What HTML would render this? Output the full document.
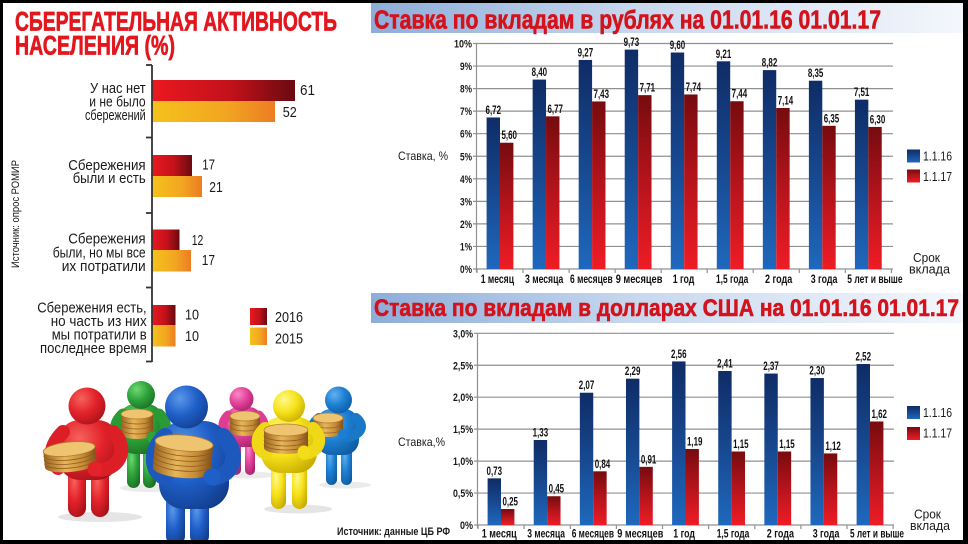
<!DOCTYPE html>
<html>
<head>
<meta charset="utf-8">
<style>
html,body{margin:0;padding:0;background:#000;}
svg{display:block;}
text{font-family:"Liberation Sans","Noto Sans CJK SC",sans-serif;}
</style>
</head>
<body>
<svg width="968" height="544" viewBox="0 0 968 544" xmlns="http://www.w3.org/2000/svg">
<defs>
  <linearGradient id="banner" x1="0" y1="0" x2="1" y2="0">
    <stop offset="0" stop-color="#8dadd9"/>
    <stop offset="0.45" stop-color="#c8d8ee"/>
    <stop offset="1" stop-color="#f4f7fc"/>
  </linearGradient>
  <linearGradient id="bb" x1="0" y1="0" x2="0" y2="1">
    <stop offset="0" stop-color="#0f2c66"/>
    <stop offset="0.5" stop-color="#17488f"/>
    <stop offset="1" stop-color="#1f68bd"/>
  </linearGradient>
  <linearGradient id="rb" x1="0" y1="0" x2="0" y2="1">
    <stop offset="0" stop-color="#760b0e"/>
    <stop offset="0.5" stop-color="#b5141c"/>
    <stop offset="1" stop-color="#ee1c25"/>
  </linearGradient>
  <linearGradient id="lr" x1="0" y1="0" x2="1" y2="0">
    <stop offset="0" stop-color="#ea1820"/>
    <stop offset="0.55" stop-color="#c3111a"/>
    <stop offset="1" stop-color="#6a0a10"/>
  </linearGradient>
  <linearGradient id="lo" x1="0" y1="0" x2="1" y2="0">
    <stop offset="0" stop-color="#f5c21b"/>
    <stop offset="0.6" stop-color="#f2a521"/>
    <stop offset="1" stop-color="#ec7d22"/>
  </linearGradient>
  <linearGradient id="gold" x1="0" y1="0" x2="1" y2="0">
    <stop offset="0" stop-color="#9a6320"/>
    <stop offset="0.4" stop-color="#e8b65a"/>
    <stop offset="0.75" stop-color="#c48a35"/>
    <stop offset="1" stop-color="#84501a"/>
  </linearGradient>
  <radialGradient id="cRed" cx="0.35" cy="0.3" r="0.8">
    <stop offset="0" stop-color="#f6625c"/><stop offset="0.5" stop-color="#e3222a"/><stop offset="1" stop-color="#a5121a"/>
  </radialGradient>
  <radialGradient id="cGreen" cx="0.35" cy="0.3" r="0.8">
    <stop offset="0" stop-color="#6fd873"/><stop offset="0.5" stop-color="#2ea33a"/><stop offset="1" stop-color="#1a6c24"/>
  </radialGradient>
  <radialGradient id="cBlue" cx="0.35" cy="0.3" r="0.8">
    <stop offset="0" stop-color="#5a98ea"/><stop offset="0.5" stop-color="#1f5fc8"/><stop offset="1" stop-color="#123d8c"/>
  </radialGradient>
  <radialGradient id="cPink" cx="0.35" cy="0.3" r="0.8">
    <stop offset="0" stop-color="#f98ac6"/><stop offset="0.5" stop-color="#e4419a"/><stop offset="1" stop-color="#a5226a"/>
  </radialGradient>
  <radialGradient id="cYellow" cx="0.35" cy="0.3" r="0.8">
    <stop offset="0" stop-color="#fff98a"/><stop offset="0.5" stop-color="#f6e21a"/><stop offset="1" stop-color="#c6aa00"/>
  </radialGradient>
  <radialGradient id="cBlue2" cx="0.35" cy="0.3" r="0.8">
    <stop offset="0" stop-color="#62b0f0"/><stop offset="0.5" stop-color="#1c7fd3"/><stop offset="1" stop-color="#0f5a9e"/>
  </radialGradient>
</defs>

<!-- frame -->
<rect x="0" y="0" width="968" height="544" fill="#000"/>
<rect x="3" y="3" width="960" height="537" fill="#fff"/>

<!-- ================= LEFT PANEL ================= -->
<text x="15" y="30.5" font-size="27" font-weight="bold" fill="#e3161e" stroke="#e3161e" stroke-width="0.7" textLength="322" lengthAdjust="spacingAndGlyphs">СБЕРЕГАТЕЛЬНАЯ АКТИВНОСТЬ</text>
<text x="15" y="54.5" font-size="27" font-weight="bold" fill="#e3161e" stroke="#e3161e" stroke-width="0.7" textLength="160" lengthAdjust="spacingAndGlyphs">НАСЕЛЕНИЯ (%)</text>

<text transform="translate(19,268) rotate(-90)" x="0" y="0" font-size="11" fill="#1a1a1a" textLength="108" lengthAdjust="spacingAndGlyphs">Источник: опрос РОМИР</text>

<!-- bars -->
<rect x="152" y="80" width="143" height="21" fill="url(#lr)"/>
<rect x="152" y="101" width="123" height="21" fill="url(#lo)"/>
<rect x="152" y="155" width="40" height="21" fill="url(#lr)"/>
<rect x="152" y="176" width="50" height="21" fill="url(#lo)"/>
<rect x="152" y="229.5" width="27.5" height="20.5" fill="url(#lr)"/>
<rect x="152" y="250" width="39" height="21.5" fill="url(#lo)"/>
<rect x="152" y="305" width="23.5" height="20" fill="url(#lr)"/>
<rect x="152" y="325" width="23.5" height="21.5" fill="url(#lo)"/>

<!-- axis -->
<g stroke="#333" stroke-width="1.8">
  <line x1="152" y1="65" x2="152" y2="362"/>
  <line x1="146" y1="65" x2="152" y2="65"/>
  <line x1="146" y1="137.5" x2="152" y2="137.5"/>
  <line x1="146" y1="213" x2="152" y2="213"/>
  <line x1="146" y1="287.5" x2="152" y2="287.5"/>
  <line x1="146" y1="361.5" x2="152" y2="361.5"/>
</g>

<!-- category labels -->
<g font-size="15" fill="#1a1a1a">
  <text x="90" y="93" textLength="55.7" lengthAdjust="spacingAndGlyphs">У нас нет</text>
  <text x="89.3" y="106.5" textLength="56.3" lengthAdjust="spacingAndGlyphs">и не было</text>
  <text x="85" y="120" textLength="60.7" lengthAdjust="spacingAndGlyphs">сбережений</text>

  <text x="68.3" y="170" textLength="77.3" lengthAdjust="spacingAndGlyphs">Сбережения</text>
  <text x="72.7" y="183" textLength="73" lengthAdjust="spacingAndGlyphs">были и есть</text>

  <text x="68.3" y="243.5" textLength="77.3" lengthAdjust="spacingAndGlyphs">Сбережения</text>
  <text x="52.7" y="257.5" textLength="93" lengthAdjust="spacingAndGlyphs">были, но мы все</text>
  <text x="61.7" y="271" textLength="84" lengthAdjust="spacingAndGlyphs">их потратили</text>

  <text x="37.3" y="312.5" textLength="109.3" lengthAdjust="spacingAndGlyphs">Сбережения есть,</text>
  <text x="50.7" y="326" textLength="96" lengthAdjust="spacingAndGlyphs">но часть из них</text>
  <text x="51.7" y="339.5" textLength="95" lengthAdjust="spacingAndGlyphs">мы потратили в</text>
  <text x="40" y="353" textLength="106.7" lengthAdjust="spacingAndGlyphs">последнее время</text>

  <!-- values -->
  <text x="300" y="95" textLength="15" lengthAdjust="spacingAndGlyphs">61</text>
  <text x="282.7" y="117" textLength="14" lengthAdjust="spacingAndGlyphs">52</text>
  <text x="202.3" y="169.5" textLength="12.7" lengthAdjust="spacingAndGlyphs">17</text>
  <text x="209.3" y="192" textLength="13.4" lengthAdjust="spacingAndGlyphs">21</text>
  <text x="191.7" y="245" textLength="11.6" lengthAdjust="spacingAndGlyphs">12</text>
  <text x="201.7" y="265" textLength="13.3" lengthAdjust="spacingAndGlyphs">17</text>
  <text x="185" y="319.5" textLength="14" lengthAdjust="spacingAndGlyphs">10</text>
  <text x="185" y="341" textLength="14" lengthAdjust="spacingAndGlyphs">10</text>

  <!-- legend -->
  <text x="275" y="322" textLength="28" lengthAdjust="spacingAndGlyphs">2016</text>
  <text x="275" y="343.5" textLength="28" lengthAdjust="spacingAndGlyphs">2015</text>
</g>
<rect x="250" y="308" width="17" height="17" fill="url(#lr)"/>
<rect x="250" y="327.5" width="17" height="17.5" fill="url(#lo)"/>

<!-- ============ FIGURES ============ -->
<g>
  <!-- shadows -->
  <ellipse cx="150" cy="488" rx="30" ry="4" fill="#000" opacity="0.08"/>
  <ellipse cx="250" cy="475" rx="24" ry="3.5" fill="#000" opacity="0.08"/>
  <ellipse cx="345" cy="485" rx="26" ry="3.5" fill="#000" opacity="0.08"/>
  <ellipse cx="100" cy="517" rx="42" ry="5" fill="#000" opacity="0.1"/>
  <ellipse cx="298" cy="509" rx="34" ry="4.5" fill="#000" opacity="0.1"/>

  <!-- GREEN -->
  <g>
    <rect x="127" y="446" width="13" height="42" rx="6.5" fill="url(#cGreen)"/>
    <rect x="143" y="446" width="13" height="42" rx="6.5" fill="url(#cGreen)"/>
    <rect x="119" y="404" width="44" height="50" rx="16" fill="url(#cGreen)"/>
    <path d="M123,414 C112,424 114,436 124,440" stroke="#2a9a35" stroke-width="11" fill="none" stroke-linecap="round"/>
    <path d="M159,414 C170,424 166,436 154,440" stroke="#2a9a35" stroke-width="11" fill="none" stroke-linecap="round"/>
    <path d="M121,414 L121,434 A16,5 0 0,0 153,434 L153,414 Z" fill="url(#gold)"/>
    <g stroke="#8e5a1e" stroke-width="0.7" fill="none">
      <path d="M121,419 A16,5 0 0,0 153,419"/><path d="M121,424 A16,5 0 0,0 153,424"/>
      <path d="M121,429 A16,5 0 0,0 153,429"/>
    </g>
    <ellipse cx="137" cy="414" rx="16" ry="5" fill="#efc470" stroke="#b07a30" stroke-width="0.8"/>
    <circle cx="152" cy="437" r="5.5" fill="#2ea33a"/>
    <circle cx="141" cy="395" r="14" fill="url(#cGreen)"/>
  </g>

  <!-- PINK -->
  <g>
    <rect x="231" y="438" width="10" height="37" rx="5" fill="url(#cPink)"/>
    <rect x="245" y="438" width="10" height="37" rx="5" fill="url(#cPink)"/>
    <rect x="225" y="407" width="37" height="40" rx="13" fill="url(#cPink)"/>
    <path d="M228,415 C220,423 222,432 230,435" stroke="#de3d92" stroke-width="9" fill="none" stroke-linecap="round"/>
    <path d="M259,415 C267,423 265,432 256,435" stroke="#de3d92" stroke-width="9" fill="none" stroke-linecap="round"/>
    <path d="M230,416 L230,431 A15,5 0 0,0 260,431 L260,416 Z" fill="url(#gold)"/>
    <g stroke="#8e5a1e" stroke-width="0.7" fill="none">
      <path d="M230,421 A15,5 0 0,0 260,421"/><path d="M230,426 A15,5 0 0,0 260,426"/>
    </g>
    <ellipse cx="245" cy="416" rx="15" ry="5" fill="#efc470" stroke="#b07a30" stroke-width="0.8"/>
    <circle cx="241.5" cy="399" r="12" fill="url(#cPink)"/>
  </g>

  <!-- BLUE RIGHT -->
  <g>
    <rect x="326" y="443" width="11" height="42" rx="5.5" fill="url(#cBlue2)"/>
    <rect x="341" y="443" width="11" height="42" rx="5.5" fill="url(#cBlue2)"/>
    <rect x="316" y="409" width="43" height="46" rx="15" fill="url(#cBlue2)"/>
    <path d="M319,418 C309,426 311,434 318,437" stroke="#1a78c8" stroke-width="10" fill="none" stroke-linecap="round"/>
    <path d="M356,418 C366,426 360,436 346,437" stroke="#1a78c8" stroke-width="10" fill="none" stroke-linecap="round"/>
    <path d="M313,418 L313,432 A15,5 0 0,0 343,432 L343,418 Z" fill="url(#gold)"/>
    <g stroke="#8e5a1e" stroke-width="0.7" fill="none">
      <path d="M313,423 A15,5 0 0,0 343,423"/><path d="M313,428 A15,5 0 0,0 343,428"/>
    </g>
    <ellipse cx="328" cy="418" rx="15" ry="5" fill="#efc470" stroke="#b07a30" stroke-width="0.8"/>
    <circle cx="343" cy="434" r="5" fill="#1c7fd3"/>
    <circle cx="338.5" cy="400" r="13.5" fill="url(#cBlue2)"/>
  </g>

  <!-- RED -->
  <g>
    <rect x="68" y="466" width="18" height="51" rx="9" fill="url(#cRed)"/>
    <rect x="91" y="466" width="18" height="51" rx="9" fill="url(#cRed)"/>
    <rect x="58" y="420" width="61" height="60" rx="22" fill="url(#cRed)"/>
    <path d="M63,432 C50,445 48,460 58,468" stroke="#dc1f27" stroke-width="14" fill="none" stroke-linecap="round"/>
    <path d="M113,432 C128,446 122,468 100,470" stroke="#dc1f27" stroke-width="14" fill="none" stroke-linecap="round"/>
    <g transform="rotate(-6 70 457)">
      <path d="M44,449 L44,465 A26,7 0 0,0 96,465 L96,449 Z" fill="url(#gold)"/>
      <g stroke="#8e5a1e" stroke-width="0.8" fill="none">
        <path d="M44,453 A26,7 0 0,0 96,453"/><path d="M44,457 A26,7 0 0,0 96,457"/>
        <path d="M44,461 A26,7 0 0,0 96,461"/>
      </g>
      <ellipse cx="70" cy="449" rx="26" ry="7" fill="#efc470" stroke="#b07a30" stroke-width="0.8"/>
    </g>
    <circle cx="95" cy="469" r="7.5" fill="#e3222a"/>
    <circle cx="87" cy="406" r="18.5" fill="url(#cRed)"/>
  </g>

  <!-- YELLOW -->
  <g>
    <rect x="271" y="463" width="15" height="46" rx="7.5" fill="url(#cYellow)"/>
    <rect x="292" y="463" width="15" height="46" rx="7.5" fill="url(#cYellow)"/>
    <rect x="261" y="417" width="56" height="56" rx="20" fill="url(#cYellow)"/>
    <path d="M265,428 C254,438 256,450 266,454" stroke="#efd816" stroke-width="12" fill="none" stroke-linecap="round"/>
    <path d="M313,428 C324,438 320,452 304,454" stroke="#efd816" stroke-width="12" fill="none" stroke-linecap="round"/>
    <path d="M264,430 L264,448 A22,6 0 0,0 308,448 L308,430 Z" fill="url(#gold)"/>
    <g stroke="#8e5a1e" stroke-width="0.8" fill="none">
      <path d="M264,435 A22,6 0 0,0 308,435"/><path d="M264,440 A22,6 0 0,0 308,440"/><path d="M264,444 A22,6 0 0,0 308,444"/>
    </g>
    <ellipse cx="286" cy="430" rx="22" ry="6" fill="#efc470" stroke="#b07a30" stroke-width="0.8"/>
    <circle cx="304" cy="452" r="6.5" fill="#f3dd18"/>
    <circle cx="289" cy="406" r="16" fill="url(#cYellow)"/>
  </g>

  <!-- BLUE BIG -->
  <g>
    <rect x="166" y="495" width="19" height="50" rx="9" fill="url(#cBlue)"/>
    <rect x="190" y="495" width="19" height="50" rx="9" fill="url(#cBlue)"/>
    <rect x="159" y="421" width="70" height="88" rx="25" fill="url(#cBlue)"/>
    <path d="M165,436 C150,450 150,470 165,478" stroke="#1d59bd" stroke-width="16" fill="none" stroke-linecap="round"/>
    <path d="M223,436 C239,452 236,474 213,478" stroke="#1d59bd" stroke-width="16" fill="none" stroke-linecap="round"/>
    <g transform="rotate(5 183 456)">
      <path d="M154,443 L154,470 A29,8 0 0,0 212,470 L212,443 Z" fill="url(#gold)"/>
      <g stroke="#8e5a1e" stroke-width="0.8" fill="none">
        <path d="M154,448 A29,8 0 0,0 212,448"/><path d="M154,453 A29,8 0 0,0 212,453"/>
        <path d="M154,458 A29,8 0 0,0 212,458"/><path d="M154,463 A29,8 0 0,0 212,463"/>
      </g>
      <ellipse cx="183" cy="443" rx="29" ry="8" fill="#efc470" stroke="#b07a30" stroke-width="0.8"/>
    </g>
    <circle cx="212" cy="477" r="8.5" fill="#1f5fc8"/>
    <circle cx="186.5" cy="407" r="21.5" fill="url(#cBlue)"/>
  </g>
</g>

<text x="337" y="535" font-size="11" font-weight="bold" fill="#1a1a1a" textLength="113" lengthAdjust="spacingAndGlyphs">Источник: данные ЦБ РФ</text>

<!-- ================= TOP RIGHT CHART ================= -->
<rect x="371" y="3" width="592" height="30" fill="url(#banner)"/>
<text x="374" y="28.3" font-size="25.5" font-weight="bold" fill="#d3121b" stroke="#d3121b" stroke-width="0.6" textLength="507" lengthAdjust="spacingAndGlyphs">Ставка по вкладам в рублях на 01.01.16 01.01.17</text>

<g stroke="#909090" stroke-width="1.2">
  <line x1="473" y1="269" x2="893" y2="269"/>
  <line x1="473" y1="246.45" x2="893" y2="246.45"/>
  <line x1="473" y1="223.9" x2="893" y2="223.9"/>
  <line x1="473" y1="201.35" x2="893" y2="201.35"/>
  <line x1="473" y1="178.8" x2="893" y2="178.8"/>
  <line x1="473" y1="156.25" x2="893" y2="156.25"/>
  <line x1="473" y1="133.7" x2="893" y2="133.7"/>
  <line x1="473" y1="111.15" x2="893" y2="111.15"/>
  <line x1="473" y1="88.6" x2="893" y2="88.6"/>
  <line x1="473" y1="66.05" x2="893" y2="66.05"/>
  <line x1="473" y1="43.5" x2="893" y2="43.5"/>
  <line x1="476.5" y1="43.5" x2="476.5" y2="272"/>
  <line x1="477" y1="269" x2="477" y2="273"/>
  <line x1="523" y1="269" x2="523" y2="273"/>
  <line x1="569.1" y1="269" x2="569.1" y2="273"/>
  <line x1="615.1" y1="269" x2="615.1" y2="273"/>
  <line x1="661.2" y1="269" x2="661.2" y2="273"/>
  <line x1="707.2" y1="269" x2="707.2" y2="273"/>
  <line x1="753.2" y1="269" x2="753.2" y2="273"/>
  <line x1="799.3" y1="269" x2="799.3" y2="273"/>
  <line x1="845.3" y1="269" x2="845.3" y2="273"/>
  <line x1="891.4" y1="269" x2="891.4" y2="273"/>
</g>

<g font-size="11" font-weight="bold" fill="#1a1a1a">
  <text x="460" y="273" textLength="12" lengthAdjust="spacingAndGlyphs">0%</text>
  <text x="460" y="250.5" textLength="12" lengthAdjust="spacingAndGlyphs">1%</text>
  <text x="460" y="227.9" textLength="12" lengthAdjust="spacingAndGlyphs">2%</text>
  <text x="460" y="205.4" textLength="12" lengthAdjust="spacingAndGlyphs">3%</text>
  <text x="460" y="182.8" textLength="12" lengthAdjust="spacingAndGlyphs">4%</text>
  <text x="460" y="160.3" textLength="12" lengthAdjust="spacingAndGlyphs">5%</text>
  <text x="460" y="137.7" textLength="12" lengthAdjust="spacingAndGlyphs">6%</text>
  <text x="460" y="115.2" textLength="12" lengthAdjust="spacingAndGlyphs">7%</text>
  <text x="460" y="92.6" textLength="12" lengthAdjust="spacingAndGlyphs">8%</text>
  <text x="460" y="70.1" textLength="12" lengthAdjust="spacingAndGlyphs">9%</text>
  <text x="454" y="47.5" textLength="18" lengthAdjust="spacingAndGlyphs">10%</text>
</g>

<!-- bars top -->
<g fill="url(#bb)">
  <rect x="486.6" y="117.46" width="13.4" height="151.54"/>
  <rect x="532.64" y="79.58" width="13.4" height="189.42"/>
  <rect x="578.68" y="59.96" width="13.4" height="209.04"/>
  <rect x="624.72" y="49.59" width="13.4" height="219.41"/>
  <rect x="670.76" y="52.52" width="13.4" height="216.48"/>
  <rect x="716.8" y="61.31" width="13.4" height="207.69"/>
  <rect x="762.84" y="70.11" width="13.4" height="198.89"/>
  <rect x="808.88" y="80.71" width="13.4" height="188.29"/>
  <rect x="854.92" y="99.65" width="13.4" height="169.35"/>
</g>
<g fill="url(#rb)">
  <rect x="500" y="142.72" width="13.4" height="126.28"/>
  <rect x="546.04" y="116.34" width="13.4" height="152.66"/>
  <rect x="592.08" y="101.45" width="13.4" height="167.55"/>
  <rect x="638.12" y="95.14" width="13.4" height="173.86"/>
  <rect x="684.16" y="94.46" width="13.4" height="174.54"/>
  <rect x="730.2" y="101.23" width="13.4" height="167.77"/>
  <rect x="776.24" y="107.99" width="13.4" height="161.01"/>
  <rect x="822.28" y="125.81" width="13.4" height="143.19"/>
  <rect x="868.32" y="126.93" width="13.4" height="142.07"/>
</g>

<g font-size="11.5" font-weight="bold" fill="#111">
  <text x="485.55" y="114" textLength="15.5" lengthAdjust="spacingAndGlyphs">6,72</text>
  <text x="531.59" y="76.1" textLength="15.5" lengthAdjust="spacingAndGlyphs">8,40</text>
  <text x="577.63" y="56.5" textLength="15.5" lengthAdjust="spacingAndGlyphs">9,27</text>
  <text x="623.67" y="46.1" textLength="15.5" lengthAdjust="spacingAndGlyphs">9,73</text>
  <text x="669.71" y="49" textLength="15.5" lengthAdjust="spacingAndGlyphs">9,60</text>
  <text x="715.75" y="57.8" textLength="15.5" lengthAdjust="spacingAndGlyphs">9,21</text>
  <text x="761.79" y="66.6" textLength="15.5" lengthAdjust="spacingAndGlyphs">8,82</text>
  <text x="807.83" y="77.2" textLength="15.5" lengthAdjust="spacingAndGlyphs">8,35</text>
  <text x="853.87" y="96.2" textLength="15.5" lengthAdjust="spacingAndGlyphs">7,51</text>

  <text x="501.45" y="139.2" textLength="15.5" lengthAdjust="spacingAndGlyphs">5,60</text>
  <text x="547.49" y="112.8" textLength="15.5" lengthAdjust="spacingAndGlyphs">6,77</text>
  <text x="593.53" y="98" textLength="15.5" lengthAdjust="spacingAndGlyphs">7,43</text>
  <text x="639.57" y="91.6" textLength="15.5" lengthAdjust="spacingAndGlyphs">7,71</text>
  <text x="685.61" y="91" textLength="15.5" lengthAdjust="spacingAndGlyphs">7,74</text>
  <text x="731.65" y="97.7" textLength="15.5" lengthAdjust="spacingAndGlyphs">7,44</text>
  <text x="777.69" y="104.5" textLength="15.5" lengthAdjust="spacingAndGlyphs">7,14</text>
  <text x="823.73" y="122.3" textLength="15.5" lengthAdjust="spacingAndGlyphs">6,35</text>
  <text x="869.77" y="123.4" textLength="15.5" lengthAdjust="spacingAndGlyphs">6,30</text>

  <text x="480.7" y="283" textLength="33.3" lengthAdjust="spacingAndGlyphs">1 месяц</text>
  <text x="525" y="283" textLength="38.3" lengthAdjust="spacingAndGlyphs">3 месяца</text>
  <text x="570" y="283" textLength="42.7" lengthAdjust="spacingAndGlyphs">6 месяцев</text>
  <text x="615.7" y="283" textLength="46.7" lengthAdjust="spacingAndGlyphs">9 месяцев</text>
  <text x="672.7" y="283" textLength="21.7" lengthAdjust="spacingAndGlyphs">1 год</text>
  <text x="716" y="283" textLength="32.3" lengthAdjust="spacingAndGlyphs">1,5 года</text>
  <text x="765" y="283" textLength="27.3" lengthAdjust="spacingAndGlyphs">2 года</text>
  <text x="810.7" y="283" textLength="26.7" lengthAdjust="spacingAndGlyphs">3 года</text>
  <text x="847.3" y="283" textLength="55.3" lengthAdjust="spacingAndGlyphs">5 лет и выше</text>
</g>

<text x="398" y="160" font-size="12" fill="#1a1a1a" textLength="50" lengthAdjust="spacingAndGlyphs">Ставка, %</text>

<rect x="907" y="149.5" width="13" height="13" fill="url(#bb)"/>
<rect x="907" y="169.5" width="13" height="13" fill="url(#rb)"/>
<g font-size="13" fill="#1a1a1a">
  <text x="923" y="160.5" textLength="29" lengthAdjust="spacingAndGlyphs">1.1.16</text>
  <text x="923" y="181" textLength="29" lengthAdjust="spacingAndGlyphs">1.1.17</text>
  <text x="913" y="262" font-size="12.5" textLength="27" lengthAdjust="spacingAndGlyphs">Срок</text>
  <text x="909" y="273.5" font-size="12.5" textLength="41" lengthAdjust="spacingAndGlyphs">вклада</text>
</g>

<!-- ================= BOTTOM RIGHT CHART ================= -->
<rect x="371" y="293" width="592" height="30" fill="url(#banner)"/>
<text x="374" y="316" font-size="24.5" font-weight="bold" fill="#d3121b" stroke="#d3121b" stroke-width="0.6" textLength="585" lengthAdjust="spacingAndGlyphs">Ставка по вкладам в долларах США на 01.01.16 01.01.17</text>

<g stroke="#909090" stroke-width="1.2">
  <line x1="474" y1="525" x2="894" y2="525"/>
  <line x1="474" y1="493.05" x2="894" y2="493.05"/>
  <line x1="474" y1="461.1" x2="894" y2="461.1"/>
  <line x1="474" y1="429.15" x2="894" y2="429.15"/>
  <line x1="474" y1="397.2" x2="894" y2="397.2"/>
  <line x1="474" y1="365.25" x2="894" y2="365.25"/>
  <line x1="474" y1="333.3" x2="894" y2="333.3"/>
  <line x1="477.5" y1="333" x2="477.5" y2="528"/>
  <line x1="478" y1="525" x2="478" y2="529"/>
  <line x1="524.1" y1="525" x2="524.1" y2="529"/>
  <line x1="570.3" y1="525" x2="570.3" y2="529"/>
  <line x1="616.4" y1="525" x2="616.4" y2="529"/>
  <line x1="662.5" y1="525" x2="662.5" y2="529"/>
  <line x1="708.6" y1="525" x2="708.6" y2="529"/>
  <line x1="754.8" y1="525" x2="754.8" y2="529"/>
  <line x1="800.9" y1="525" x2="800.9" y2="529"/>
  <line x1="847" y1="525" x2="847" y2="529"/>
  <line x1="893.1" y1="525" x2="893.1" y2="529"/>
</g>

<g font-size="11" font-weight="bold" fill="#1a1a1a">
  <text x="460" y="529" textLength="13" lengthAdjust="spacingAndGlyphs">0%</text>
  <text x="453" y="497" textLength="20" lengthAdjust="spacingAndGlyphs">0,5%</text>
  <text x="453" y="465.1" textLength="20" lengthAdjust="spacingAndGlyphs">1,0%</text>
  <text x="453" y="433.2" textLength="20" lengthAdjust="spacingAndGlyphs">1,5%</text>
  <text x="453" y="401.2" textLength="20" lengthAdjust="spacingAndGlyphs">2,0%</text>
  <text x="453" y="369.3" textLength="20" lengthAdjust="spacingAndGlyphs">2,5%</text>
  <text x="453" y="337.3" textLength="20" lengthAdjust="spacingAndGlyphs">3,0%</text>
</g>

<g fill="url(#bb)">
  <rect x="487.6" y="478.35" width="13.4" height="46.65"/>
  <rect x="533.725" y="440.01" width="13.4" height="84.99"/>
  <rect x="579.85" y="392.73" width="13.4" height="132.27"/>
  <rect x="625.975" y="378.67" width="13.4" height="146.33"/>
  <rect x="672.1" y="361.42" width="13.4" height="163.58"/>
  <rect x="718.225" y="371" width="13.4" height="154"/>
  <rect x="764.35" y="373.56" width="13.4" height="151.44"/>
  <rect x="810.475" y="378.03" width="13.4" height="146.97"/>
  <rect x="856.6" y="363.97" width="13.4" height="161.03"/>
</g>
<g fill="url(#rb)">
  <rect x="501" y="509.02" width="13.4" height="15.98"/>
  <rect x="547.125" y="496.24" width="13.4" height="28.76"/>
  <rect x="593.25" y="471.32" width="13.4" height="53.68"/>
  <rect x="639.375" y="466.85" width="13.4" height="58.15"/>
  <rect x="685.5" y="448.96" width="13.4" height="76.04"/>
  <rect x="731.625" y="451.51" width="13.4" height="73.49"/>
  <rect x="777.75" y="451.51" width="13.4" height="73.49"/>
  <rect x="823.875" y="453.43" width="13.4" height="71.57"/>
  <rect x="870" y="421.48" width="13.4" height="103.52"/>
</g>

<g font-size="11.5" font-weight="bold" fill="#111">
  <text x="486.55" y="474.85" textLength="15.5" lengthAdjust="spacingAndGlyphs">0,73</text>
  <text x="532.675" y="436.5" textLength="15.5" lengthAdjust="spacingAndGlyphs">1,33</text>
  <text x="578.8" y="389.2" textLength="15.5" lengthAdjust="spacingAndGlyphs">2,07</text>
  <text x="624.925" y="375.2" textLength="15.5" lengthAdjust="spacingAndGlyphs">2,29</text>
  <text x="671.05" y="357.9" textLength="15.5" lengthAdjust="spacingAndGlyphs">2,56</text>
  <text x="717.175" y="367.5" textLength="15.5" lengthAdjust="spacingAndGlyphs">2,41</text>
  <text x="763.3" y="370.1" textLength="15.5" lengthAdjust="spacingAndGlyphs">2,37</text>
  <text x="809.425" y="374.5" textLength="15.5" lengthAdjust="spacingAndGlyphs">2,30</text>
  <text x="855.55" y="360.5" textLength="15.5" lengthAdjust="spacingAndGlyphs">2,52</text>

  <text x="502.45" y="505.5" textLength="15.5" lengthAdjust="spacingAndGlyphs">0,25</text>
  <text x="548.575" y="492.7" textLength="15.5" lengthAdjust="spacingAndGlyphs">0,45</text>
  <text x="594.7" y="467.8" textLength="15.5" lengthAdjust="spacingAndGlyphs">0,84</text>
  <text x="640.825" y="463.4" textLength="15.5" lengthAdjust="spacingAndGlyphs">0,91</text>
  <text x="686.95" y="445.5" textLength="15.5" lengthAdjust="spacingAndGlyphs">1,19</text>
  <text x="733.075" y="448" textLength="15.5" lengthAdjust="spacingAndGlyphs">1,15</text>
  <text x="779.2" y="448" textLength="15.5" lengthAdjust="spacingAndGlyphs">1,15</text>
  <text x="825.325" y="449.9" textLength="15.5" lengthAdjust="spacingAndGlyphs">1,12</text>
  <text x="871.45" y="418" textLength="15.5" lengthAdjust="spacingAndGlyphs">1,62</text>

  <text x="481.7" y="537.5" textLength="35" lengthAdjust="spacingAndGlyphs">1 месяц</text>
  <text x="527.3" y="537.5" textLength="37.7" lengthAdjust="spacingAndGlyphs">3 месяца</text>
  <text x="571.7" y="537.5" textLength="42.3" lengthAdjust="spacingAndGlyphs">6 месяцев</text>
  <text x="617.3" y="537.5" textLength="46" lengthAdjust="spacingAndGlyphs">9 месяцев</text>
  <text x="673.3" y="537.5" textLength="21.7" lengthAdjust="spacingAndGlyphs">1 год</text>
  <text x="716.7" y="537.5" textLength="32.7" lengthAdjust="spacingAndGlyphs">1,5 года</text>
  <text x="766.7" y="537.5" textLength="27.3" lengthAdjust="spacingAndGlyphs">2 года</text>
  <text x="812.7" y="537.5" textLength="26.7" lengthAdjust="spacingAndGlyphs">3 года</text>
  <text x="850" y="537.5" textLength="54" lengthAdjust="spacingAndGlyphs">5 лет и выше</text>
</g>

<text x="398" y="446" font-size="12" fill="#1a1a1a" textLength="47" lengthAdjust="spacingAndGlyphs">Ставка,%</text>

<rect x="907" y="406" width="13" height="13" fill="url(#bb)"/>
<rect x="907" y="427" width="13" height="13" fill="url(#rb)"/>
<g font-size="13" fill="#1a1a1a">
  <text x="923" y="417" textLength="29" lengthAdjust="spacingAndGlyphs">1.1.16</text>
  <text x="923" y="437.5" textLength="29" lengthAdjust="spacingAndGlyphs">1.1.17</text>
  <text x="914" y="518.5" font-size="12.5" textLength="27" lengthAdjust="spacingAndGlyphs">Срок</text>
  <text x="910" y="530" font-size="12.5" textLength="40" lengthAdjust="spacingAndGlyphs">вклада</text>
</g>

<!-- frame overlay -->
<rect x="0" y="540" width="968" height="4" fill="#000"/>
<rect x="963" y="0" width="5" height="544" fill="#000"/>
<rect x="0" y="0" width="968" height="3" fill="#000"/>
<rect x="0" y="0" width="3" height="544" fill="#000"/>
</svg>
</body>
</html>
